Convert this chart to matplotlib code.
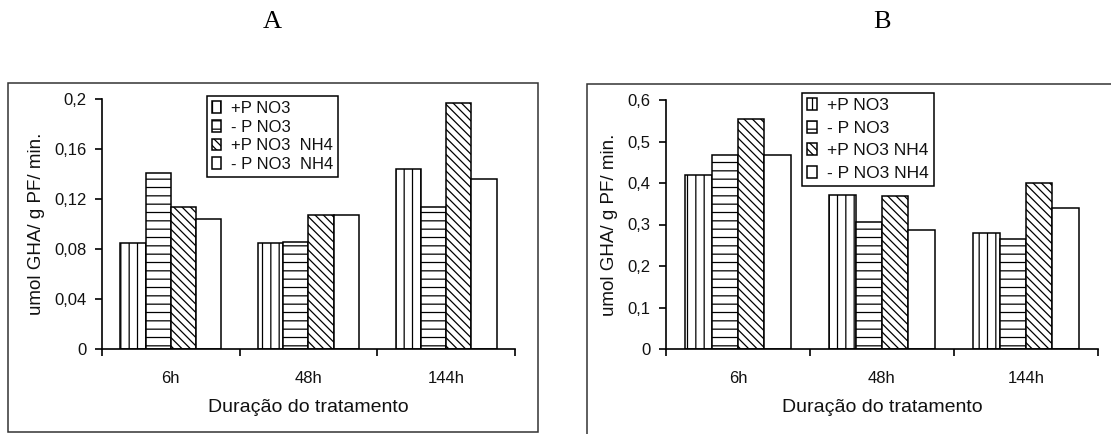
import matplotlib
matplotlib.use("Agg")
import matplotlib.pyplot as plt
import numpy as np
from matplotlib.patches import Rectangle

# ---- data ----
categories = ["6h", "48h", "144h"]
series_a = ["+P NO3", "- P NO3", "+P NO3  NH4", "- P NO3  NH4"]
series_b = ["+P NO3", "- P NO3", "+P NO3 NH4", "- P NO3 NH4"]

a_pno3 = [0.085, 0.085, 0.144]
a_mno3 = [0.141, 0.086, 0.114]
a_pno3nh4 = [0.114, 0.107, 0.197]
a_mno3nh4 = [0.104, 0.107, 0.136]

b_pno3 = [0.420, 0.372, 0.280]
b_mno3 = [0.467, 0.305, 0.266]
b_pno3nh4 = [0.555, 0.368, 0.400]
b_mno3nh4 = [0.467, 0.286, 0.339]

a_yticks = [0, 0.04, 0.08, 0.12, 0.16, 0.2]
a_yticklabels = ["0", "0,04", "0,08", "0,12", "0,16", "0,2"]
b_yticks = [0, 0.1, 0.2, 0.3, 0.4, 0.5, 0.6]
b_yticklabels = ["0", "0,1", "0,2", "0,3", "0,4", "0,5", "0,6"]

ylabel = "umol GHA/ g PF/ min."
xlabel = "Duração do tratamento"

# ---- style ----
plt.rcParams["font.family"] = ["Liberation Sans", "DejaVu Sans"]
plt.rcParams["hatch.linewidth"] = 0.9
plt.rcParams["hatch.color"] = "black"

W, H = 1111, 434
fig = plt.figure(figsize=(W / 100, H / 100), dpi=100)
fig.patch.set_facecolor("white")

def fx(px):
    return px / W

def fy(py):
    return 1 - py / H

hatches = ["||", "--", "\\\\\\\\", ""]
bar_w = 0.183
txt_color = "#111111"

def draw_panel(rect, vals_list, names, yticks, yticklabels, ylim, legend_xy,
               leg_spacing, leg_font):
    ax = fig.add_axes(rect)
    x = np.arange(len(categories))
    handles = []
    for i, (vals, h) in enumerate(zip(vals_list, hatches)):
        offs = (i - 1.5) * bar_w
        b = ax.bar(x + offs, vals, width=bar_w, facecolor="white",
                   edgecolor="black", linewidth=1.1, hatch=h, label=names[i])
        handles.append(b)
    ax.set_xlim(-0.5, 2.5)
    ax.set_ylim(*ylim)
    for s in ["top", "right"]:
        ax.spines[s].set_visible(False)
    for s in ["left", "bottom"]:
        ax.spines[s].set_linewidth(1.2)
        ax.spines[s].set_color("black")
    ax.set_yticks(yticks)
    ax.set_yticklabels(yticklabels, fontsize=12, color=txt_color)
    ax.set_xticks(x)
    ax.set_xticklabels(categories, fontsize=12, color=txt_color)
    ax.tick_params(axis="x", which="major", length=0, pad=16)
    ax.set_xticks([-0.5, 0.5, 1.5, 2.5], minor=True)
    ax.tick_params(axis="x", which="minor", length=5, width=1.2, direction="out")
    ax.tick_params(axis="y", length=5, width=1.2, direction="out", pad=6)
    ax.set_ylabel(ylabel, fontsize=13.5, color=txt_color, labelpad=7)
    ax.set_xlabel(xlabel, fontsize=14, color=txt_color, labelpad=9)
    leg = ax.legend(handles=handles, loc="upper left",
                    bbox_to_anchor=legend_xy, bbox_transform=fig.transFigure,
                    borderaxespad=0, fancybox=False, framealpha=1,
                    edgecolor="black", fontsize=leg_font, handlelength=0.55,
                    handleheight=0.7, handletextpad=0.6,
                    labelspacing=leg_spacing, borderpad=0.3)
    leg.get_frame().set_linewidth(1.1)
    for t in leg.get_texts():
        t.set_color(txt_color)
    return ax

# panel A
ax_a = draw_panel([fx(102), fy(349), fx(515) - fx(102), fy(99) - fy(349)],
                  [a_pno3, a_mno3, a_pno3nh4, a_mno3nh4], series_a,
                  a_yticks, a_yticklabels, (0, 0.2), (fx(207), fy(96)),
                  0.22, 12)
# panel B
ax_b = draw_panel([fx(666), fy(349), fx(1098) - fx(666), fy(100) - fy(349)],
                  [b_pno3, b_mno3, b_pno3nh4, b_mno3nh4], series_b,
                  b_yticks, b_yticklabels, (0, 0.6), (fx(802), fy(93)),
                  0.42, 12.5)

# outer frames
fig.add_artist(Rectangle((fx(8), fy(432)), fx(538) - fx(8), fy(83) - fy(432),
                         transform=fig.transFigure, fill=False,
                         edgecolor="#333333", linewidth=1.1))
fig.add_artist(Rectangle((fx(587), fy(460)), fx(1140) - fx(587), fy(84) - fy(460),
                         transform=fig.transFigure, fill=False,
                         edgecolor="#333333", linewidth=1.1))

# panel letters
fig.text(fx(272), fy(22), "A", family=["Liberation Serif", "DejaVu Serif"],
         fontsize=19, ha="center", va="center", color="black")
fig.text(fx(882), fy(22), "B", family=["Liberation Serif", "DejaVu Serif"],
         fontsize=19, ha="center", va="center", color="black")

fig.savefig("out.png", dpi=100, facecolor="white")
